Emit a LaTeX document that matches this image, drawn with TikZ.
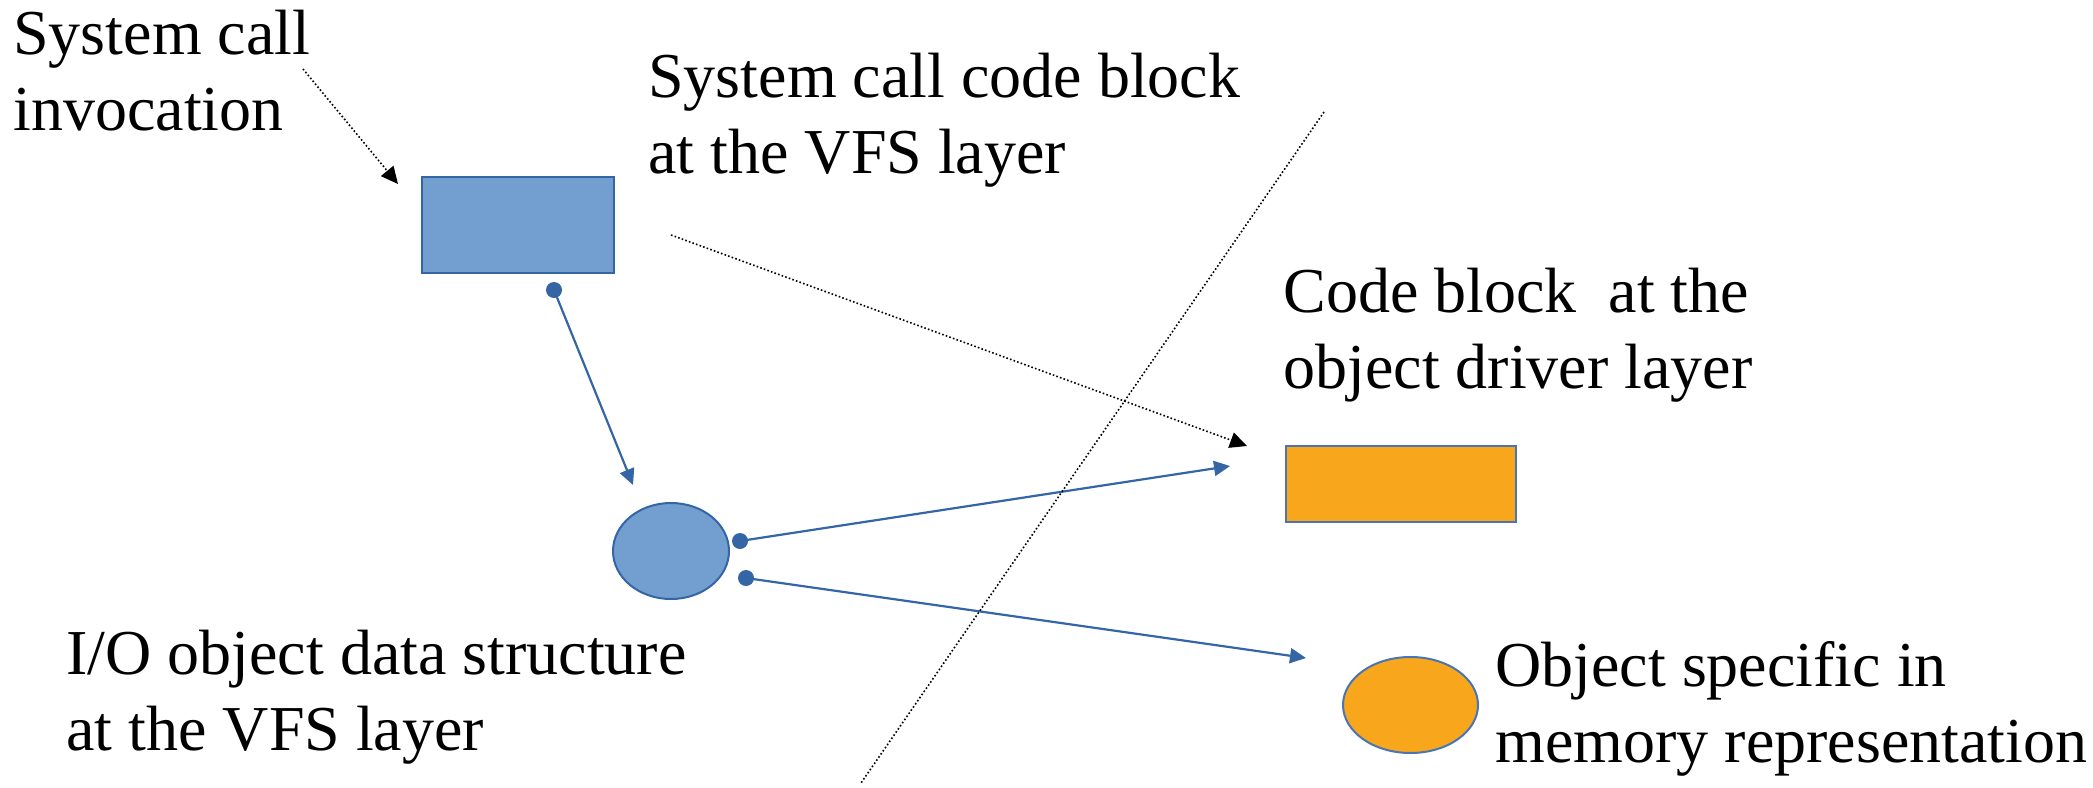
\documentclass[tikz,border=0pt]{standalone}
\usepackage{fontspec}
\setmainfont{Liberation Serif}
\usetikzlibrary{arrows.meta,shapes.geometric}
\definecolor{bfill}{HTML}{729FCF}
\definecolor{bline}{HTML}{3465A4}
\definecolor{ofill}{HTML}{F8A71D}
\definecolor{oline}{HTML}{4A74B4}
\tikzset{
  lbl/.style={anchor=base west, inner sep=0pt, align=left, font=\fontsize{32pt}{38pt}\selectfont},
  bluebox/.style={draw=bline, fill=bfill, line width=1pt, inner sep=0pt},
  orangebox/.style={draw=oline, fill=ofill, line width=1pt, inner sep=0pt},
  dotstart/.style={circle, fill=bline, inner sep=0pt, minimum size=8pt},
  bluearrow/.style={draw=bline, line width=1.1pt, -{Triangle[length=8pt,width=7.5pt]}},
  dotarrow/.style={line width=0.8pt, dash pattern=on 0.8pt off 1.1pt, -{Triangle[length=8.5pt,width=8pt]}},
  dotline/.style={line width=0.8pt, dash pattern=on 0.8pt off 1.1pt}
}
\begin{document}
\begin{tikzpicture}[x=0.5pt,y=-0.5pt]
\useasboundingbox (0,0) rectangle (2093,787);
% shapes
\node[bluebox, rectangle, minimum width=96pt, minimum height=48pt] (sysblk) at (518,225) {};
\node[bluebox, ellipse, minimum width=58pt, minimum height=48pt] (ioobj) at (671,551) {};
\node[orangebox, rectangle, minimum width=115pt, minimum height=38pt] (drvblk) at (1401,484) {};
\node[orangebox, ellipse, minimum width=67.5pt, minimum height=48pt] (memrep) at (1410.5,705) {};
% labels (anchored at the baseline of their last line)
\node[lbl] (t1) at (13,130) {System call\\invocation};
\node[lbl] (t2) at (648,173) {System call code block\\at the VFS layer};
\node[lbl] (t3) at (1283,388) {Code block~~at the\\object driver layer};
\node[lbl] (t4) at (66,750) {I/O object data structure\\at the VFS layer};
\node[lbl] (t5) at (1495,762) {Object specific in\\memory representation};
% start dots
\node[dotstart] (d1) at (554,290) {};
\node[dotstart] (d2) at (740,541) {};
\node[dotstart] (d3) at (746,578) {};
% free ends
\coordinate (e1) at (633,485);
\coordinate (e2) at (1230,466);
\coordinate (e3) at (1306,658);
\coordinate (s4) at (303,69);
\coordinate (e4) at (398,184);
\coordinate (s5) at (671,235);
\coordinate (e5) at (1247,446);
\coordinate (s6) at (1324,112);
\coordinate (e6) at (861,783);
% connectors
\draw[bluearrow] (d1.center) -- (e1);
\draw[bluearrow] (d2.center) -- (e2);
\draw[bluearrow] (d3.center) -- (e3);
\draw[dotarrow] (s4) -- (e4);
\draw[dotarrow] (s5) -- (e5);
\draw[dotline] (s6) -- (e6);
\end{tikzpicture}
\end{document}
